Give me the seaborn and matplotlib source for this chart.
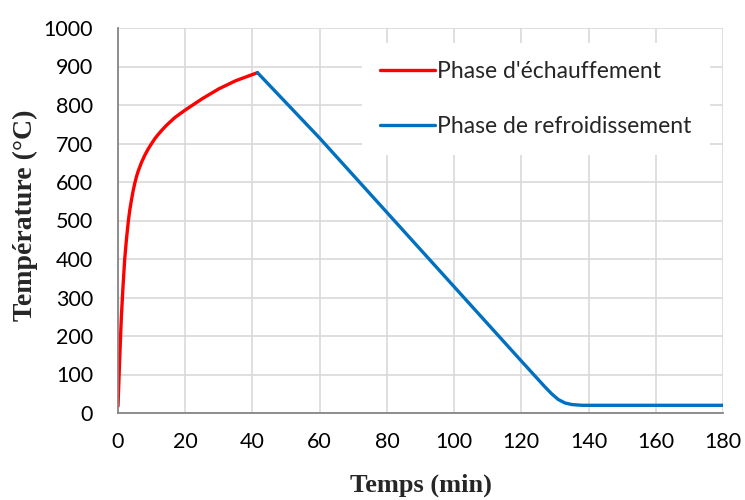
import matplotlib
matplotlib.use("Agg")
import matplotlib.pyplot as plt
import seaborn as sns
import pandas as pd

# Data
heat_t = [0, 0.5, 1.0, 1.5, 2.0, 2.5, 3.1, 3.5, 4, 4.5, 5, 5.5, 6, 7, 8, 9, 10,
          11, 12, 13, 14.5, 17, 20, 25, 30, 35, 41.5]
heat_T = [18, 140, 250, 330, 400, 450, 500, 527, 553, 577, 597, 614, 628, 651,
          670, 686, 700, 713, 724, 734, 748, 768, 787, 816, 842, 863, 884]
cool_t = [41.5, 60, 100, 120, 127, 129, 131, 133, 135, 138, 180]
cool_T = [884, 714, 328, 135, 68, 50, 35, 26, 22, 20, 20]
series_names = ["Phase d'échauffement", "Phase de refroidissement"]
x_ticks = [0, 20, 40, 60, 80, 100, 120, 140, 160, 180]
y_ticks = [0, 100, 200, 300, 400, 500, 600, 700, 800, 900, 1000]

df = pd.concat([
    pd.DataFrame({"t": heat_t, "T": heat_T, "phase": series_names[0]}),
    pd.DataFrame({"t": cool_t, "T": cool_T, "phase": series_names[1]}),
], ignore_index=True)

sns.set_theme(style="white")
plt.rcParams['font.family'] = ['Lato', 'DejaVu Sans']

fig = plt.figure(figsize=(7.45, 5.0), dpi=100)
ax = fig.add_axes([118/745, 1-413/500, 605/745, 385/500])

sns.lineplot(data=df, x="t", y="T", hue="phase", sort=False,
             palette={series_names[0]: "#FF0000", series_names[1]: "#0070C0"},
             linewidth=2.4, ax=ax, estimator=None)

ax.set_xlim(0, 180)
ax.set_ylim(0, 1000)
ax.set_xticks(x_ticks)
ax.set_yticks(y_ticks)
ax.grid(True, color="#d9d9d9", linewidth=1.2)
ax.set_axisbelow(True)
for s in ["top", "right"]:
    ax.spines[s].set_visible(False)
for s in ["left", "bottom"]:
    ax.spines[s].set_color("#868686")
    ax.spines[s].set_linewidth(1.3)
ax.tick_params(axis="both", which="major", direction="out", length=6,
               width=1.3, color="#868686", labelsize=15.5, labelcolor="black")
ax.tick_params(axis="x", pad=8)
ax.tick_params(axis="y", pad=12)

ax.set_xlabel("Temps (min)", fontsize=19, fontweight="bold",
              family="Liberation Serif")
ax.set_ylabel("Température (°C)", fontsize=20, fontweight="bold",
              family="Liberation Serif")
ax.xaxis.set_label_coords(0.5, -(474-413)/385, transform=ax.transAxes)
ax.yaxis.set_label_coords((38-118)/605, (413-215)/385, transform=ax.transAxes)

leg = ax.legend(loc="upper left", bbox_to_anchor=(0.403, 0.961), frameon=True,
                fancybox=False, facecolor="white", edgecolor="none", framealpha=1,
                fontsize=16.5, handlelength=2.4, handletextpad=0.1,
                labelspacing=1.45, borderpad=0.8, borderaxespad=0)
for line in leg.get_lines():
    line.set_linewidth(2.4)

fig.savefig("out.png", dpi=100)
